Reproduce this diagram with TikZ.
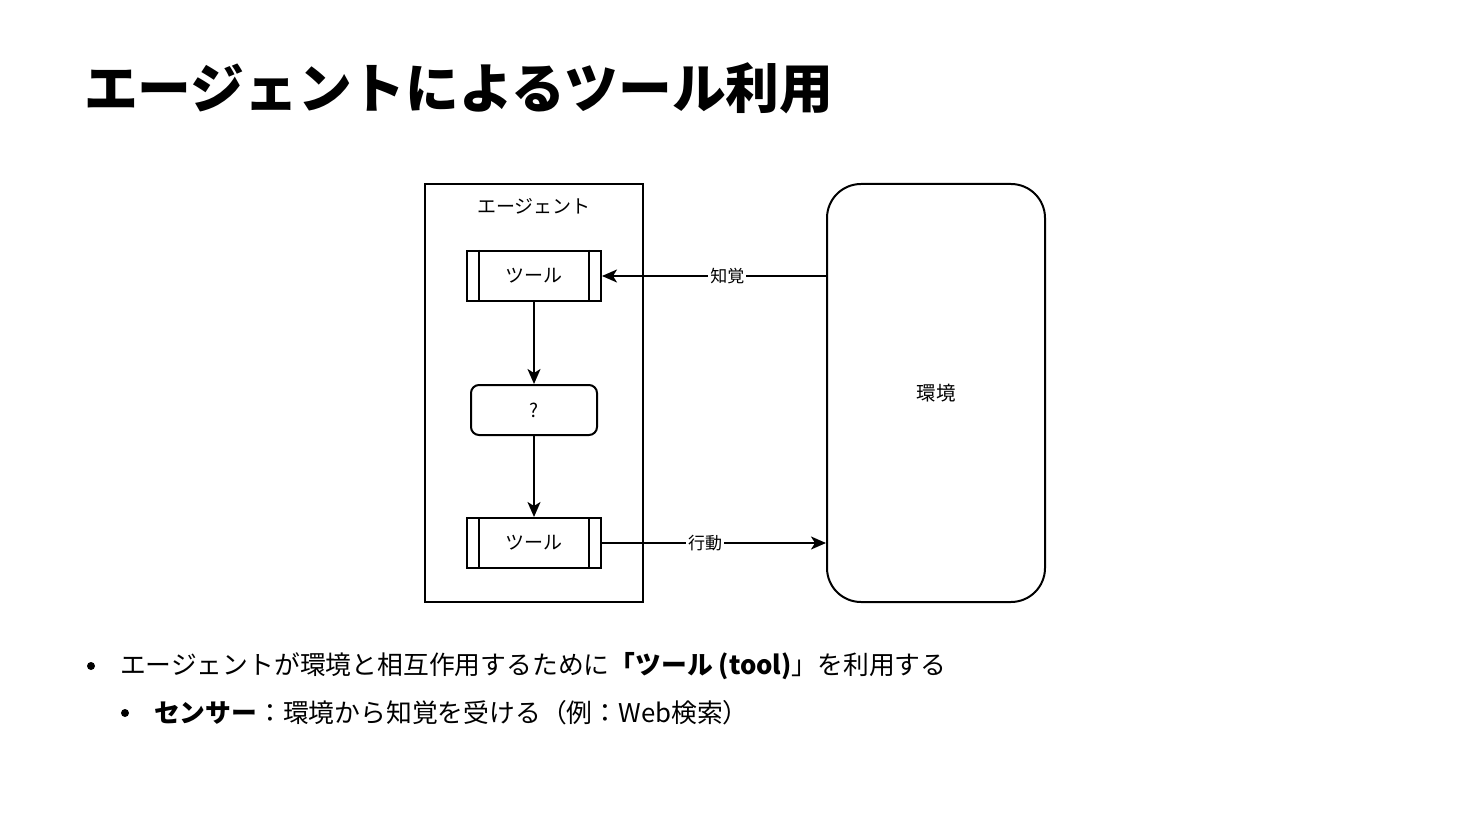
\documentclass[tikz,border=0pt]{standalone}
\usepackage{fontspec}
\setmainfont{Noto Sans CJK JP}
\usetikzlibrary{arrows.meta,calc}

\begin{document}
\begin{tikzpicture}[x=.5pt,y=-.5pt,line width=1pt,>={Stealth[length=7.5pt,width=6.5pt,inset=2pt]},
tool/.style={draw,minimum width=67pt,minimum height=25pt,font=\fontsize{9.5}{11}\selectfont},
lbl/.style={fill=white,inner sep=1pt,font=\fontsize{8.5}{10}\selectfont},
txt/.style={anchor=west,inner sep=0,font=\fontsize{12.9}{15}\selectfont},
dot/.style={circle,fill,inner sep=0,minimum size=4pt}]
\useasboundingbox(0,0)rectangle(1470,828);
\node[anchor=west,inner sep=0,font=\fontsize{26.9}{30}\selectfont\bfseries](title)at(83,88){エージェントによるツール利用};
% agent side
\node[draw,minimum width=109pt,minimum height=209pt](agent)at(534,393){};
\node[font=\fontsize{9.5}{11}\selectfont](an)at(534,206){エージェント};
\node[tool](t1)at(534,276){ツール};\draw($(t1.north west)+(13,0)$)--($(t1.south west)+(13,0)$);\draw($(t1.north east)+(-13,0)$)--($(t1.south east)+(-13,0)$);
\node[draw,rounded corners=4pt,minimum width=63pt,minimum height=25pt,font=\fontsize{9.5}{11}\selectfont](q)at(534,410){?};
\node[tool](t2)at(534,543){ツール};\draw($(t2.north west)+(13,0)$)--($(t2.south west)+(13,0)$);\draw($(t2.north east)+(-13,0)$)--($(t2.south east)+(-13,0)$);
\draw[->](t1)--(q);\draw[->](q)--(t2);
% environment
\node[draw,rounded corners=17pt,minimum width=109pt,minimum height=209pt,font=\fontsize{9.75}{11}\selectfont](env)at(936,393){環境};
\draw[->](env.west|-t1)--node[lbl,pos=.44]{知覚}(t1);
\draw[->](t2)--node[lbl,pos=.46]{行動}(env.west|-t2);
% bullets
\node[dot](b1)at(91,666){};\node[txt](l1)at(119,666){エージェントが環境と相互作用するために{\bfseries「ツール (tool)}」を利用する};
\node[dot](b2)at(125,713){};\node[txt](l2)at(153,713){{\bfseries センサー}：環境から知覚を受ける（例：Web検索）};
\end{tikzpicture}
\end{document}
